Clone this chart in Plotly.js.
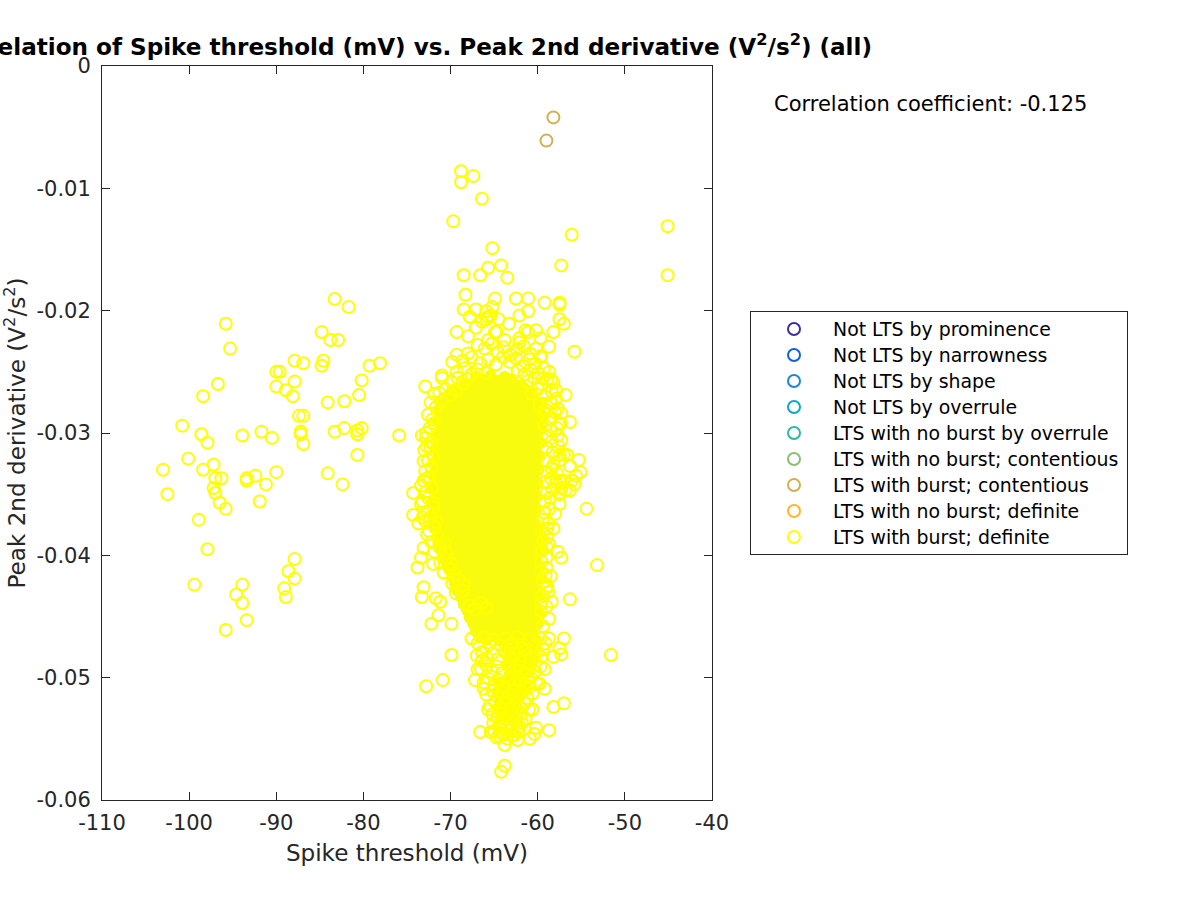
<!DOCTYPE html>
<html><head><meta charset="utf-8">
<script src="https://cdn.plot.ly/plotly-3.0.1.min.js"></script>
<style>html,body{margin:0;padding:0;background:#fff}#c{width:1200px;height:900px}</style></head>
<body><div id="c"></div><script>
const legendNames=["Not LTS by prominence","Not LTS by narrowness","Not LTS by shape","Not LTS by overrule","LTS with no burst by overrule","LTS with no burst; contentious","LTS with burst; contentious","LTS with no burst; definite","LTS with burst; definite"];
const legendColors=["#3f2f9e","#0f5fe0","#1a86e0","#0aa8cc","#2fb8a0","#88c070","#d1b050","#fdb92a","#ffff00"];
const xTicks=[-110,-100,-90,-80,-70,-60,-50,-40];
const xTickText=["-110","-100","-90","-80","-70","-60","-50","-40"];
const yTicks=[0,-0.01,-0.02,-0.03,-0.04,-0.05,-0.06];
const yTickText=["0","-0.01","-0.02","-0.03","-0.04","-0.05","-0.06"];
const contentiousX=[-58.2,-59.0];
const contentiousY=[-0.0042,-0.0061];
const outerX=[-83.3,-81.7,-95.8,-95.3,-84.8,-83.8,-82.9,-87.9,-86.9,-84.6,-84.8,-79.3,-78.1,-90.0,-89.6,-80.2,-87.9,-90.0,-88.9,-88.1,-96.7,-98.4,-80.5,-82.2,-84.1,-87.4,-86.9,-100.8,-98.6,-97.9,-93.9,-91.7,-90.5,-87.2,-87.2,-86.9,-83.3,-82.2,-80.7,-80.2,-80.7,-75.9,-80.7,
-100.1,-103.0,-98.4,-97.2,-97.0,-96.3,-97.2,-97.0,-102.5,-96.5,-95.8,-98.9,-97.9,-99.4,-93.9,-94.6,-93.9,-93.4,-95.8,-93.4,-93.4,-92.4,-90.0,-91.2,-91.9,-84.1,-82.4,-87.9,-88.6,-87.9,-89.1,-88.9,
-68.8,-67.4,-68.8,-66.4,-69.7,-45.1,-56.1,-65.2,-65.7,-64.2,-57.3,-68.5,-66.6,-63.5,-45.1,-68.3,-64.9,-62.5,-61.1,-59.2,-57.5,-57.5,-68.5,-67.1,-65.2,-65.9,-61.1,-62.1,-67.8,-65.4,-65.7,-64.5,-65.9,-66.4,-63.3,-57.5,-57.0,-67.1,-69.3,-68.0,-64.9,-64.7,-61.4,-61.1,-60.2,-58.2,-59.7,-62.1,-63.8,-65.7,-58.7,-55.8,-62.1,
-69.3,-68.0,-69.8,-71.0,-71.0,-72.9,-71.9,-56.8,-58.5,-59.4,-57.9,-58.5,-56.3,-57.3,-57.3,-58.5,-55.3,-57.5,-57.0,-56.6,-56.3,-55.1,-55.6,-56.1,-57.5,-57.0,-55.8,-57.3,-56.8,-56.3,-57.5,-54.4,-58.2,-58.7,-57.7,-57.3,-53.2,-59.0,-58.5,-59.0,-56.3,
-73.3,-72.8,-72.7,-73.1,-74.3,-73.4,-72.7,-73.4,-73.2,-74.3,-73.7,-72.7,-73.1,-73.4,-73.8,-72.0,-73.1,-73.3,-71.7,-71.2,-71.4,-72.2,-69.9,
-69.9,-51.6,-72.8,-70.9,-66.6,-65.4,-58.7,-60.2,-60.4,-60.9,-62.1,-64.4,-63.8,-63.8,-64.2,-60.6,-58.2,-57.0,-65.7,-59.2,-59.8,-60.9,-67.2,-66.2,-66.9,-66.4,-59.2,-57.0,-57.5,-57.3,-58.2,-58.7,-59.4,-58.7,-59.4,-59.6];
const outerY=[-0.01905,-0.0197,-0.02107,-0.0231,-0.02175,-0.0224,-0.0224,-0.0241,-0.0243,-0.0241,-0.0245,-0.0245,-0.0243,-0.025,-0.025,-0.0257,-0.0258,-0.0262,-0.0265,-0.027,-0.026,-0.027,-0.0269,-0.0274,-0.0275,-0.0286,-0.0286,-0.0294,-0.0301,-0.0308,-0.0302,-0.0299,-0.0304,-0.0299,-0.0301,-0.0309,-0.0299,-0.0296,-0.0298,-0.0296,-0.0301,-0.0302,-0.0318,
-0.0321,-0.033,-0.033,-0.0326,-0.0337,-0.0337,-0.0345,-0.0349,-0.035,-0.0357,-0.0362,-0.0371,-0.0395,-0.0424,-0.0424,-0.0432,-0.0439,-0.0453,-0.0461,-0.0337,-0.0339,-0.0335,-0.0332,-0.0342,-0.0356,-0.0333,-0.0342,-0.0403,-0.0413,-0.0419,-0.0427,-0.0434,
-0.0086,-0.009,-0.0095,-0.01085,-0.0127,-0.0131,-0.0138,-0.0149,-0.0165,-0.0163,-0.0163,-0.0171,-0.0171,-0.0173,-0.0171,-0.0187,-0.019,-0.019,-0.019,-0.01935,-0.01935,-0.0195,-0.0199,-0.0199,-0.0197,-0.02005,-0.02005,-0.0204,-0.0205,-0.0204,-0.0205,-0.0207,-0.0207,-0.0209,-0.02107,-0.0207,-0.02107,-0.0214,-0.02175,-0.0221,-0.02175,-0.02175,-0.0216,-0.02175,-0.0216,-0.02175,-0.02225,-0.02225,-0.0224,-0.0224,-0.02295,-0.02335,-0.0226,
-0.0236,-0.0235,-0.0242,-0.0253,-0.0255,-0.0262,-0.0268,-0.0269,-0.0256,-0.0255,-0.0265,-0.0275,-0.0291,-0.0284,-0.0306,-0.0289,-0.0322,-0.0318,-0.0318,-0.0318,-0.0327,-0.0332,-0.0335,-0.0339,-0.0339,-0.0339,-0.0342,-0.0345,-0.0347,-0.0347,-0.0358,-0.0362,-0.0378,-0.0391,-0.0397,-0.0402,-0.0408,-0.041,-0.0417,-0.0427,-0.0436,
-0.0302,-0.03,-0.0311,-0.0323,-0.0349,-0.0343,-0.0337,-0.0358,-0.0369,-0.0367,-0.0374,-0.0383,-0.0394,-0.0402,-0.041,-0.0407,-0.0426,-0.0434,-0.0435,-0.0438,-0.0449,-0.0456,-0.0456,
-0.04815,-0.04815,-0.0507,-0.0502,-0.05445,-0.05445,-0.0543,-0.0541,-0.0546,-0.055,-0.054,-0.0548,-0.0555,-0.0572,-0.0577,-0.0526,-0.0524,-0.0521,-0.0526,-0.0509,-0.0505,-0.0507,-0.0502,-0.0509,-0.0493,-0.0486,-0.0493,-0.0468,-0.0476,-0.0481,-0.0483,-0.0468,-0.0477,-0.0452,-0.0458,-0.0446];
const fringeX=[-66.9,-66.1,-65.3,-64.6,-63.9,-63.1,-62.4,-61.6,-60.9,-60.2,-59.6,
-68.6,-67.6,-66.6,-65.7,-64.8,-64.0,-63.2,-62.5,-61.7,-61.0,-60.3,-59.7,
-69.3,-68.4,-67.6,-66.9,-66.0,-62.3,-61.5,-60.8,-60.0,-59.3,-58.7,
-69.9,-69.2,-68.6,-68.0,-61.2,-60.4,-59.6,-58.9,-58.2,
-71.3,-70.6,-70.0,-69.4,-60.7,-60.0,-59.2,-58.4,-57.9,
-72.3,-71.7,-71.1,-59.8,-59.1,-58.4,-57.7,
-72.6,-72.1,-59.3,-58.7,-58.0,-57.4,-72.4,-71.9,-59.2,-58.5,-57.8,
-72.8,-72.2,-59.1,-58.4,-57.7,-73.0,-72.3,-59.0,-58.3,-57.6,
-72.6,-72.0,-58.9,-58.2,-57.4,-72.9,-72.2,-59.0,-58.4,-57.8,
-73.1,-72.4,-59.1,-58.5,-57.9,-72.8,-72.1,-59.0,-58.3,-57.5,
-73.2,-72.6,-72.0,-59.2,-58.6,-72.7,-72.0,-59.3,-58.7,-58.0,
-72.9,-72.3,-71.6,-59.4,-58.8,-72.5,-71.8,-59.5,-58.9,
-72.2,-71.4,-70.7,-59.4,-58.9,-71.9,-71.2,-70.5,-59.5,-59.0,
-71.2,-70.6,-69.9,-59.6,-59.0,-70.8,-70.1,-69.5,-59.7,-59.1,
-69.8,-69.1,-68.5,-59.4,-58.9,-69.4,-68.6,-59.5,-58.8,
-67.8,-67.2,-66.5,-65.9,-59.6,-59.0,-58.4,
-67.6,-66.9,-66.2,-65.6,-65.1,-64.3,-63.6,-62.9,-62.3,-61.7,-61.0,-60.4,-59.7,-59.1,
-67.0,-66.4,-65.8,-65.2,-64.6,-63.8,-63.2,-62.6,-62.0,-61.4,-60.8,-60.2,-59.6,
-66.5,-65.9,-65.3,-64.7,-64.1,-63.3,-62.7,-62.1,-61.5,-60.9,-60.3,-59.7,
-66.2,-65.6,-65.0,-64.5,-63.8,-63.2,-62.6,-62.0,-61.4,-60.8,-60.1,
-65.9,-65.2,-64.6,-64.1,-63.5,-62.9,-62.3,-61.8,-61.2,-60.6,
-65.5,-64.9,-64.3,-63.8,-63.2,-62.6,-62.0,-61.5,-61.0,
-65.2,-64.6,-64.1,-63.6,-63.0,-62.5,-61.9,-61.4,
-65.1,-64.5,-64.0,-63.5,-63.0,-62.4,-61.8,
-65.0,-64.4,-63.8,-63.2,-62.7,-62.2,
-64.7,-64.1,-63.5,-62.9,-62.3];
const fringeY=[-0.0228,-0.0231,-0.0227,-0.0234,-0.023,-0.0236,-0.0232,-0.0229,-0.0235,-0.0231,-0.0237,
-0.0241,-0.0238,-0.0243,-0.024,-0.0244,-0.0238,-0.0242,-0.0239,-0.0245,-0.024,-0.0243,-0.0238,
-0.025,-0.0247,-0.0252,-0.0248,-0.0251,-0.0249,-0.0252,-0.0248,-0.0251,-0.0247,-0.025,
-0.0258,-0.0255,-0.026,-0.0256,-0.0258,-0.0255,-0.026,-0.0256,-0.0259,
-0.0267,-0.0264,-0.0269,-0.0265,-0.0268,-0.0264,-0.027,-0.0266,-0.0272,
-0.0275,-0.0279,-0.0274,-0.0277,-0.0281,-0.0276,-0.028,
-0.0285,-0.0289,-0.0284,-0.0288,-0.0283,-0.0292,-0.0296,-0.0292,-0.0294,-0.0298,-0.0296,
-0.0304,-0.0308,-0.0303,-0.0307,-0.0302,-0.0314,-0.0311,-0.0312,-0.0316,-0.0311,
-0.0322,-0.0319,-0.0323,-0.0326,-0.0322,-0.0331,-0.0328,-0.0332,-0.0329,-0.0333,
-0.0339,-0.0336,-0.034,-0.0337,-0.034,-0.0348,-0.0345,-0.0349,-0.0346,-0.035,
-0.0356,-0.0353,-0.0357,-0.0356,-0.0353,-0.0364,-0.0361,-0.0365,-0.0362,-0.0366,
-0.0372,-0.0369,-0.0373,-0.0371,-0.0374,-0.038,-0.0377,-0.0381,-0.0378,
-0.0389,-0.0386,-0.039,-0.0388,-0.0385,-0.0397,-0.0394,-0.0398,-0.0396,-0.0393,
-0.0406,-0.0403,-0.0407,-0.0405,-0.0402,-0.0414,-0.0411,-0.0415,-0.0413,-0.0416,
-0.0423,-0.042,-0.0424,-0.0422,-0.0425,-0.0431,-0.0429,-0.0433,-0.043,
-0.0441,-0.0444,-0.0439,-0.0443,-0.0439,-0.0442,-0.0438,
-0.0468,-0.0472,-0.0467,-0.0473,-0.0469,-0.0474,-0.0468,-0.0472,-0.0467,-0.0473,-0.0469,-0.0474,-0.0468,-0.0472,
-0.0482,-0.0479,-0.0484,-0.048,-0.0485,-0.0479,-0.0483,-0.048,-0.0485,-0.0478,-0.0484,-0.048,-0.0483,
-0.0493,-0.049,-0.0495,-0.0491,-0.0496,-0.049,-0.0494,-0.0491,-0.0496,-0.0489,-0.0495,-0.0491,
-0.0504,-0.0501,-0.0506,-0.0502,-0.0507,-0.0501,-0.0505,-0.0502,-0.0507,-0.05,-0.0505,
-0.0514,-0.0511,-0.0516,-0.0512,-0.0517,-0.0511,-0.0515,-0.0512,-0.0517,-0.0513,
-0.0523,-0.052,-0.0525,-0.0521,-0.0526,-0.052,-0.0524,-0.0521,-0.0526,
-0.053,-0.0533,-0.0529,-0.0534,-0.0531,-0.0535,-0.053,-0.0534,
-0.0537,-0.054,-0.0536,-0.0541,-0.0538,-0.0542,-0.0537,
-0.0544,-0.0541,-0.0546,-0.0543,-0.0547,-0.0544,
-0.0549,-0.0546,-0.055,-0.0547,-0.0551];
const coreX=[-67.1,-66.3,-65.4,-64.7,-63.8,-63.0,
-68.4,-67.6,-66.8,-65.9,-65.2,-64.3,-63.5,-62.8,-62.0,
-69.8,-69.1,-68.2,-67.4,-66.5,-65.7,-64.9,-64.1,-63.2,-62.4,-61.6,-60.9,
-70.4,-69.6,-68.7,-67.9,-67.1,-66.3,-65.4,-64.6,-63.8,-63.0,-62.2,-61.3,-60.6,
-70.9,-70.1,-69.3,-68.5,-67.6,-66.8,-66.0,-65.1,-64.3,-63.5,-62.7,-61.9,-61.0,-60.2,-59.5,
-71.3,-70.6,-69.7,-68.9,-68.1,-67.2,-66.4,-65.6,-64.8,-63.9,-63.1,-62.3,-61.5,-60.6,-59.9,
-71.1,-70.2,-69.4,-68.6,-67.8,-66.9,-66.1,-65.3,-64.4,-63.6,-62.8,-62.0,-61.1,-60.3,-59.5,
-71.5,-70.7,-69.8,-69.0,-68.2,-67.4,-66.5,-65.7,-64.9,-64.1,-63.2,-62.4,-61.6,-60.8,-59.9,
-71.2,-70.3,-69.5,-68.7,-67.9,-67.0,-66.2,-65.4,-64.6,-63.7,-62.9,-62.1,-61.3,-60.4,-59.6,
-71.6,-70.8,-70.0,-69.1,-68.3,-67.5,-66.7,-65.8,-65.0,-64.2,-63.4,-62.5,-61.7,-60.9,-60.1,
-71.3,-70.4,-69.6,-68.8,-68.0,-67.1,-66.3,-65.5,-64.7,-63.8,-63.0,-62.2,-61.4,-60.5,-59.7,
-71.7,-70.9,-70.1,-69.2,-68.4,-67.6,-66.8,-65.9,-65.1,-64.3,-63.5,-62.6,-61.8,-61.0,-60.2,
-71.4,-70.5,-69.7,-68.9,-68.1,-67.2,-66.4,-65.6,-64.8,-63.9,-63.1,-62.3,-61.5,-60.6,-59.8,
-71.8,-71.0,-70.2,-69.3,-68.5,-67.7,-66.9,-66.0,-65.2,-64.4,-63.6,-62.7,-61.9,-61.1,-60.3,
-71.5,-70.6,-69.8,-69.0,-68.2,-67.3,-66.5,-65.7,-64.9,-64.0,-63.2,-62.4,-61.6,-60.7,-59.9,
-71.9,-71.1,-70.3,-69.4,-68.6,-67.8,-67.0,-66.1,-65.3,-64.5,-63.7,-62.8,-62.0,-61.2,-60.4,
-71.6,-70.7,-69.9,-69.1,-68.3,-67.4,-66.6,-65.8,-65.0,-64.1,-63.3,-62.5,-61.7,-60.8,-60.0,
-72.0,-71.2,-70.4,-69.5,-68.7,-67.9,-67.1,-66.2,-65.4,-64.6,-63.8,-62.9,-62.1,-61.3,-60.5,
-71.7,-70.8,-70.0,-69.2,-68.4,-67.5,-66.7,-65.9,-65.1,-64.2,-63.4,-62.6,-61.8,-60.9,-60.1,
-72.0,-71.3,-70.5,-69.6,-68.8,-68.0,-67.2,-66.3,-65.5,-64.7,-63.9,-63.0,-62.2,-61.4,-60.6,
-71.8,-70.9,-70.1,-69.3,-68.5,-67.6,-66.8,-66.0,-65.2,-64.3,-63.5,-62.7,-61.9,-61.0,-60.2,
-72.0,-71.4,-70.6,-69.7,-68.9,-68.1,-67.3,-66.4,-65.6,-64.8,-64.0,-63.1,-62.3,-61.5,-60.7,
-71.9,-71.0,-70.2,-69.4,-68.6,-67.7,-66.9,-66.1,-65.3,-64.4,-63.6,-62.8,-62.0,-61.1,-60.3,
-71.6,-70.7,-69.8,-69.0,-68.2,-67.4,-66.5,-65.7,-64.9,-64.1,-63.2,-62.4,-61.6,-60.8,-60.0,
-71.3,-70.3,-69.5,-68.7,-67.9,-67.0,-66.2,-65.4,-64.6,-63.7,-62.9,-62.1,-61.3,-60.4,-59.6,
-71.4,-70.8,-70.0,-69.1,-68.3,-67.5,-66.7,-65.8,-65.0,-64.2,-63.4,-62.5,-61.7,-60.9,-60.1,
-71.0,-70.4,-69.6,-68.8,-68.0,-67.1,-66.3,-65.5,-64.7,-63.8,-63.0,-62.2,-61.4,-60.5,-59.7,
-70.8,-70.0,-69.2,-68.4,-67.6,-66.8,-65.9,-65.1,-64.3,-63.5,-62.6,-61.8,-61.0,-60.2,
-70.4,-69.6,-68.8,-68.0,-67.2,-66.3,-65.5,-64.7,-63.9,-63.0,-62.2,-61.4,-60.6,-59.8,
-70.0,-69.2,-68.4,-67.6,-66.8,-65.9,-65.1,-64.3,-63.5,-62.7,-61.8,-61.0,-60.2,
-69.8,-69.0,-68.2,-67.3,-66.5,-65.7,-64.9,-64.0,-63.2,-62.4,-61.6,-60.8,-59.9,
-69.5,-68.7,-67.9,-67.1,-66.2,-65.4,-64.6,-63.8,-62.9,-62.1,-61.3,-60.5,
-69.2,-68.4,-67.5,-66.7,-65.9,-65.1,-64.2,-63.4,-62.6,-61.8,-60.9,-60.1,
-68.8,-68.0,-67.2,-66.4,-65.5,-64.7,-63.9,-63.1,-62.2,-61.4,-60.6,-59.8,
-68.5,-67.7,-66.9,-66.0,-65.2,-64.4,-63.6,-62.7,-61.9,-61.1,-60.3,
-68.1,-67.3,-66.5,-65.7,-64.9,-64.0,-63.2,-62.4,-61.6,-60.7,-59.9,
-67.8,-67.0,-66.2,-65.3,-64.5,-63.7,-62.9,-62.0,-61.2,-60.4,
-67.4,-66.6,-65.8,-65.0,-64.1,-63.3,-62.5,-61.7,-60.8,-60.0,
-67.1,-66.3,-65.4,-64.6,-63.8,-63.0,-62.1,-61.3,-60.5,
-66.7,-65.9,-65.1,-64.3,-63.4,-62.6,-61.8,-61.0,-60.1,
-63.6,-62.8,-62.1,-61.4,-60.7,
-63.3,-62.6,-61.9,-61.2,-60.5,
-63.5,-62.8,-62.1,-61.4,-60.8,
-63.2,-62.5,-61.8,-61.1,
-64.2,-63.5,-62.8,-62.1,-61.5,
-64.6,-63.9,-63.2,-62.5,-61.8,
-64.3,-63.6,-62.9,-62.2,
-64.5,-63.8,-63.1,-62.4,
-64.2,-63.5,-62.8];
const coreY=[-0.0254,-0.0256,-0.0253,-0.0257,-0.0254,-0.0256,
-0.026,-0.0262,-0.0259,-0.0261,-0.0263,-0.0259,-0.0262,-0.026,-0.0261,
-0.0265,-0.0267,-0.0264,-0.0268,-0.0265,-0.0267,-0.0264,-0.0266,-0.0268,-0.0265,-0.0263,-0.0266,
-0.027,-0.0272,-0.0269,-0.0273,-0.027,-0.0272,-0.0269,-0.0271,-0.0273,-0.027,-0.0272,-0.0269,-0.0271,
-0.0275,-0.0277,-0.0274,-0.0278,-0.0275,-0.0277,-0.0274,-0.0276,-0.0278,-0.0275,-0.0277,-0.0274,-0.0276,-0.0278,-0.0275,
-0.0281,-0.0283,-0.028,-0.0284,-0.0281,-0.0283,-0.028,-0.0282,-0.0284,-0.0281,-0.0283,-0.028,-0.0282,-0.0284,-0.0281,
-0.0286,-0.0288,-0.0285,-0.0289,-0.0286,-0.0288,-0.0285,-0.0287,-0.0289,-0.0286,-0.0288,-0.0285,-0.0287,-0.0289,-0.0286,
-0.0291,-0.0293,-0.029,-0.0294,-0.0291,-0.0293,-0.029,-0.0292,-0.0294,-0.0291,-0.0293,-0.029,-0.0292,-0.0294,-0.0291,
-0.0297,-0.0299,-0.0296,-0.03,-0.0297,-0.0299,-0.0296,-0.0298,-0.03,-0.0297,-0.0299,-0.0296,-0.0298,-0.03,-0.0297,
-0.0302,-0.0304,-0.0301,-0.0305,-0.0302,-0.0304,-0.0301,-0.0303,-0.0305,-0.0302,-0.0304,-0.0301,-0.0303,-0.0305,-0.0302,
-0.0308,-0.031,-0.0307,-0.0311,-0.0308,-0.031,-0.0307,-0.0309,-0.0311,-0.0308,-0.031,-0.0307,-0.0309,-0.0311,-0.0308,
-0.0313,-0.0315,-0.0312,-0.0316,-0.0313,-0.0315,-0.0312,-0.0314,-0.0316,-0.0313,-0.0315,-0.0312,-0.0314,-0.0316,-0.0313,
-0.0319,-0.0321,-0.0318,-0.0322,-0.0319,-0.0321,-0.0318,-0.032,-0.0322,-0.0319,-0.0321,-0.0318,-0.032,-0.0322,-0.0319,
-0.0324,-0.0326,-0.0323,-0.0327,-0.0324,-0.0326,-0.0323,-0.0325,-0.0327,-0.0324,-0.0326,-0.0323,-0.0325,-0.0327,-0.0324,
-0.033,-0.0332,-0.0329,-0.0333,-0.033,-0.0332,-0.0329,-0.0331,-0.0333,-0.033,-0.0332,-0.0329,-0.0331,-0.0333,-0.033,
-0.0335,-0.0337,-0.0334,-0.0338,-0.0335,-0.0337,-0.0334,-0.0336,-0.0338,-0.0335,-0.0337,-0.0334,-0.0336,-0.0338,-0.0335,
-0.0341,-0.0343,-0.034,-0.0344,-0.0341,-0.0343,-0.034,-0.0342,-0.0344,-0.0341,-0.0343,-0.034,-0.0342,-0.0344,-0.0341,
-0.0346,-0.0348,-0.0345,-0.0349,-0.0346,-0.0348,-0.0345,-0.0347,-0.0349,-0.0346,-0.0348,-0.0345,-0.0347,-0.0349,-0.0346,
-0.0352,-0.0354,-0.0351,-0.0355,-0.0352,-0.0354,-0.0351,-0.0353,-0.0355,-0.0352,-0.0354,-0.0351,-0.0353,-0.0355,-0.0352,
-0.0357,-0.0359,-0.0356,-0.036,-0.0357,-0.0359,-0.0356,-0.0358,-0.036,-0.0357,-0.0359,-0.0356,-0.0358,-0.036,-0.0357,
-0.0363,-0.0365,-0.0362,-0.0366,-0.0363,-0.0365,-0.0362,-0.0364,-0.0366,-0.0363,-0.0365,-0.0362,-0.0364,-0.0366,-0.0363,
-0.0368,-0.037,-0.0367,-0.0371,-0.0368,-0.037,-0.0367,-0.0369,-0.0371,-0.0368,-0.037,-0.0367,-0.0369,-0.0371,-0.0368,
-0.0374,-0.0376,-0.0373,-0.0377,-0.0374,-0.0376,-0.0373,-0.0375,-0.0377,-0.0374,-0.0376,-0.0373,-0.0375,-0.0377,-0.0374,
-0.0379,-0.0381,-0.0378,-0.0382,-0.0379,-0.0381,-0.0378,-0.038,-0.0382,-0.0379,-0.0381,-0.0378,-0.038,-0.0382,-0.0379,
-0.0385,-0.0387,-0.0384,-0.0388,-0.0385,-0.0387,-0.0384,-0.0386,-0.0388,-0.0385,-0.0387,-0.0384,-0.0386,-0.0388,-0.0385,
-0.039,-0.0392,-0.0389,-0.0393,-0.039,-0.0392,-0.0389,-0.0391,-0.0393,-0.039,-0.0392,-0.0389,-0.0391,-0.0393,-0.039,
-0.0396,-0.0398,-0.0395,-0.0399,-0.0396,-0.0398,-0.0395,-0.0397,-0.0399,-0.0396,-0.0398,-0.0395,-0.0397,-0.0399,-0.0396,
-0.0401,-0.0403,-0.04,-0.0404,-0.0401,-0.0403,-0.04,-0.0402,-0.0404,-0.0401,-0.0403,-0.04,-0.0402,-0.0404,
-0.0407,-0.0409,-0.0406,-0.041,-0.0407,-0.0409,-0.0406,-0.0408,-0.041,-0.0407,-0.0409,-0.0406,-0.0408,-0.041,
-0.0412,-0.0414,-0.0411,-0.0415,-0.0412,-0.0414,-0.0411,-0.0413,-0.0415,-0.0412,-0.0414,-0.0411,-0.0413,
-0.0418,-0.042,-0.0417,-0.0421,-0.0418,-0.042,-0.0417,-0.0419,-0.0421,-0.0418,-0.042,-0.0417,-0.0419,
-0.0423,-0.0425,-0.0422,-0.0426,-0.0423,-0.0425,-0.0422,-0.0424,-0.0426,-0.0423,-0.0425,-0.0422,
-0.0429,-0.0431,-0.0428,-0.0432,-0.0429,-0.0431,-0.0428,-0.043,-0.0432,-0.0429,-0.0431,-0.0428,
-0.0434,-0.0436,-0.0433,-0.0437,-0.0434,-0.0436,-0.0433,-0.0435,-0.0437,-0.0434,-0.0436,-0.0433,
-0.044,-0.0442,-0.0439,-0.0443,-0.044,-0.0442,-0.0439,-0.0441,-0.0443,-0.044,-0.0442,
-0.0445,-0.0447,-0.0444,-0.0448,-0.0445,-0.0447,-0.0444,-0.0446,-0.0448,-0.0445,-0.0447,
-0.0451,-0.0453,-0.045,-0.0454,-0.0451,-0.0453,-0.045,-0.0452,-0.0454,-0.0451,
-0.0456,-0.0458,-0.0455,-0.0459,-0.0456,-0.0458,-0.0455,-0.0457,-0.0459,-0.0456,
-0.0462,-0.0464,-0.0461,-0.0465,-0.0462,-0.0464,-0.0461,-0.0463,-0.0465,
-0.0467,-0.0469,-0.0466,-0.047,-0.0467,-0.0469,-0.0466,-0.0468,-0.047,
-0.0476,-0.0478,-0.0475,-0.0479,-0.0476,
-0.0483,-0.0481,-0.0485,-0.0482,-0.0484,
-0.049,-0.0488,-0.0492,-0.0489,-0.0491,
-0.0497,-0.0495,-0.0499,-0.0496,
-0.0504,-0.0502,-0.0506,-0.0503,-0.0505,
-0.0511,-0.0509,-0.0513,-0.051,-0.0512,
-0.0518,-0.0516,-0.052,-0.0517,
-0.0525,-0.0523,-0.0527,-0.0524,
-0.0532,-0.053,-0.0534];
const ring=(c)=>({symbol:"circle",size:12,color:"rgba(0,0,0,0)",line:{color:c,width:2}});
const traces=[];
traces.push({type:"scatter",mode:"markers",showlegend:false,name:"LTS with burst; definite",x:coreX,y:coreY,marker:{symbol:"circle",size:12,color:"#f9fb0e",line:{width:0}}});
traces.push({type:"scatter",mode:"markers",showlegend:false,name:"LTS with burst; definite",x:outerX.concat(fringeX),y:outerY.concat(fringeY),marker:ring("#ffff00")});
traces.push({type:"scatter",mode:"markers",showlegend:false,name:"LTS with burst; contentious",x:contentiousX,y:contentiousY,marker:ring("#d1b050")});
traces.push({type:"scatter",mode:"markers",showlegend:false,xaxis:"x2",yaxis:"y2",x:legendNames.map(()=>0),y:legendNames,marker:{symbol:"circle",size:12,color:"rgba(0,0,0,0)",line:{color:legendColors,width:2}}});
const tickFont={family:"DejaVu Sans",size:21,color:"#262626"};
const titleFont={family:"DejaVu Sans",size:23.1,color:"#262626"};
const axisBase={showgrid:false,zeroline:false,showline:true,mirror:"ticks",linecolor:"#262626",linewidth:1,ticks:"inside",ticklen:8,tickcolor:"#262626",tickwidth:1,tickfont:tickFont,tickmode:"array",automargin:false};
const legendAnn=legendNames.map(n=>({xref:"x2",yref:"y2",x:37,y:n,xanchor:"left",yanchor:"middle",showarrow:false,text:n,font:{family:"DejaVu Sans",size:18.9,color:"#000"}}));
const layout={width:1200,height:900,paper_bgcolor:"#fff",plot_bgcolor:"#fff",showlegend:false,hovermode:false,
margin:{l:0,r:0,t:0,b:0,pad:0},font:{family:"DejaVu Sans"},
title:{text:"Correlation of Spike threshold (mV) vs. Peak 2nd derivative (V<sup>2</sup>/s<sup>2</sup>) (all)",font:{family:"DejaVu Sans",size:23.1,color:"#000",weight:"bold"},x:407/1200,xref:"container",xanchor:"center",y:1-47/900,yref:"container",yanchor:"middle"},
xaxis:Object.assign({},axisBase,{domain:[102/1200,712/1200],anchor:"y",range:[-110,-40],tickvals:xTicks,ticktext:xTickText,ticklabelstandoff:4,title:{text:"Spike threshold (mV)",font:titleFont,standoff:10}}),
yaxis:Object.assign({},axisBase,{domain:[100/900,834/900],anchor:"x",range:[-0.06,0],tickvals:yTicks,ticktext:yTickText,ticklabelstandoff:6,title:{text:"Peak 2nd derivative (V<sup>2</sup>/s<sup>2</sup>)",font:titleFont,standoff:6}}),
xaxis2:{domain:[751/1200,1127/1200],anchor:"y2",range:[-43,333],showgrid:false,zeroline:false,showline:true,mirror:true,linecolor:"#262626",linewidth:1,ticks:"",showticklabels:false,automargin:false},
yaxis2:{domain:[346/900,588/900],anchor:"x2",type:"category",categoryorder:"array",categoryarray:legendNames,range:[8.654,-0.654],showgrid:false,zeroline:false,showline:true,mirror:true,linecolor:"#262626",linewidth:1,ticks:"",showticklabels:false,automargin:false},
annotations:[{xref:"paper",yref:"paper",x:772/1200,y:1-104/900,xanchor:"left",yanchor:"middle",showarrow:false,text:"Correlation coefficient: -0.125",font:{family:"DejaVu Sans",size:21,color:"#000"}}].concat(legendAnn)};
Plotly.newPlot("c",traces,layout,{displayModeBar:false,staticPlot:true});
</script></body></html>
